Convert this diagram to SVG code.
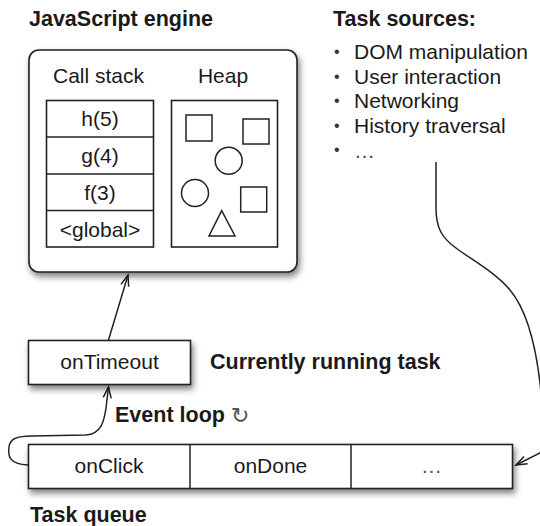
<svg xmlns="http://www.w3.org/2000/svg" width="540" height="526" viewBox="0 0 540 526">
  <defs>
    <filter id="shadow" x="-10%" y="-10%" width="125%" height="135%">
      <feDropShadow dx="2" dy="4" stdDeviation="3" flood-color="#000" flood-opacity="0.5"/>
    </filter>
    <marker id="arrow" viewBox="-12 -6 14 12" refX="0" refY="0" markerWidth="14" markerHeight="12" markerUnits="userSpaceOnUse" orient="auto">
      <path d="M-11,-4 L0,0 L-11,4" fill="none" stroke="#222" stroke-width="1.5"/>
    </marker>
  </defs>
  <style>
    text { font-family: "Liberation Sans", Arial, Helvetica, sans-serif; fill: #1a1a1a; }
    .title { font-size: 21.5px; font-weight: bold; }
    .label { font-size: 21px; }
    .bullet { font-size: 16px; fill: #333; }
    .mid { text-anchor: middle; }
    .box { fill: #fff; stroke: #222; stroke-width: 1.6; }
    .shape { fill: none; stroke: #222; stroke-width: 1.5; }
    .conn { fill: none; stroke: #222; stroke-width: 1.5; marker-end: url(#arrow); }
    .sym { font-family: "DejaVu Sans", sans-serif; font-weight: normal; font-size: 22px; fill: #555; }
  </style>

  <g id="connectors">
    <path class="conn" d="M108.5,340 L128,275"/>
    <path class="conn" d="M28,465 C8,464 8,455 9,447 C10,439 16,436 32,436 L86,435 C101,434 104,422 106,408 L108.5,387"/>
    <path class="conn" d="M436,162 L436,208 C436,228 442,238 456,248 C472,260 495,272 510,290 C525,308 535,340 540,383 C543,410 545,440 540,453 L516,465"/>
  </g>

  <g id="engine">
    <text class="title" x="29" y="25.5">JavaScript engine</text>
    <rect class="box" x="29" y="50" width="268" height="222" rx="10" filter="url(#shadow)"/>
    <text class="label mid" x="98.5" y="83">Call stack</text>
    <text class="label mid" x="223" y="83">Heap</text>
  </g>

  <g id="call-stack">
    <rect class="box" x="46.5" y="100.5" width="107" height="146.5"/>
    <line class="shape" x1="46.5" y1="137" x2="153.5" y2="137"/>
    <line class="shape" x1="46.5" y1="174" x2="153.5" y2="174"/>
    <line class="shape" x1="46.5" y1="210.5" x2="153.5" y2="210.5"/>
    <text class="label mid" x="100" y="126">h(5)</text>
    <text class="label mid" x="100" y="163">g(4)</text>
    <text class="label mid" x="100" y="200">f(3)</text>
    <text class="label mid" x="100" y="236.5">&lt;global&gt;</text>
  </g>

  <g id="heap">
    <rect class="box" x="171.5" y="100.5" width="106" height="146.5"/>
    <rect class="shape" x="186" y="115" width="26" height="26"/>
    <rect class="shape" x="243" y="119" width="26" height="25"/>
    <circle class="shape" cx="228.7" cy="160.7" r="13.5"/>
    <circle class="shape" cx="195" cy="193" r="13.5"/>
    <rect class="shape" x="240.7" y="187" width="26" height="25"/>
    <polygon class="shape" points="221.7,210.7 209,236 235,236"/>
  </g>

  <g id="task-sources">
    <text class="title" x="333" y="25.5">Task sources:</text>
    <text class="bullet" x="334" y="57">•</text>
    <text class="label" x="354" y="59">DOM manipulation</text>
    <text class="bullet" x="334" y="81.5">•</text>
    <text class="label" x="354" y="83.5">User interaction</text>
    <text class="bullet" x="334" y="106">•</text>
    <text class="label" x="354" y="108">Networking</text>
    <text class="bullet" x="334" y="130.5">•</text>
    <text class="label" x="354" y="132.5">History traversal</text>
    <text class="bullet" x="334" y="155">•</text>
    <text class="label" x="354" y="158" style="fill:#444">…</text>
  </g>

  <g id="current-task">
    <rect class="box" x="28.5" y="340.5" width="162" height="44" filter="url(#shadow)"/>
    <text class="label mid" x="109.5" y="369">onTimeout</text>
    <text class="title" x="210" y="368.5">Currently running task</text>
  </g>

  <g id="event-loop">
    <text class="title" x="115" y="422">Event loop <tspan class="sym" dy="1">↻</tspan></text>
  </g>

  <g id="task-queue">
    <rect class="box" x="28.5" y="444.5" width="484" height="44" filter="url(#shadow)"/>
    <line class="shape" x1="190" y1="444.5" x2="190" y2="488.5"/>
    <line class="shape" x1="351" y1="444.5" x2="351" y2="488.5"/>
    <text class="label mid" x="109" y="473">onClick</text>
    <text class="label mid" x="270.5" y="473">onDone</text>
    <text class="label mid" x="431.5" y="473" style="fill:#555">…</text>
    <text class="title" x="30" y="522">Task queue</text>
  </g>
</svg>
